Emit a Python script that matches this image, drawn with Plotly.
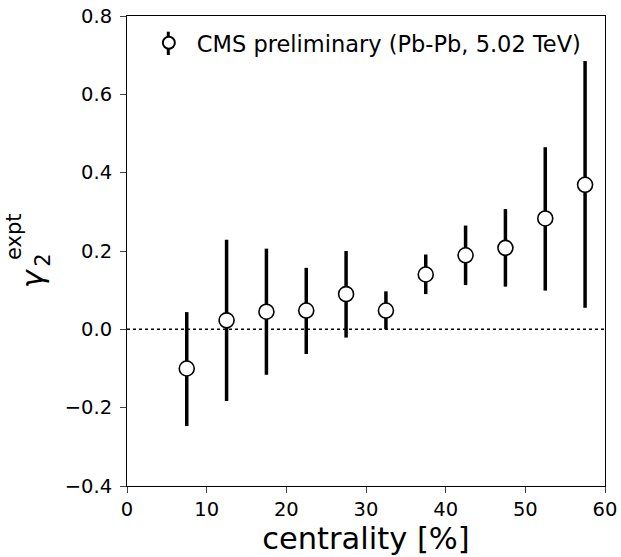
import plotly.graph_objects as go

centrality = [7.5, 12.5, 17.5, 22.5, 27.5, 32.5, 37.5, 42.5, 47.5, 52.5, 57.5]
gamma2 = [-0.100, 0.023, 0.045, 0.048, 0.090, 0.048, 0.140, 0.189, 0.208, 0.283, 0.369]
err_up = [0.144, 0.206, 0.161, 0.109, 0.110, 0.049, 0.051, 0.076, 0.099, 0.182, 0.316]
err_down = [0.147, 0.206, 0.161, 0.111, 0.111, 0.048, 0.050, 0.076, 0.099, 0.184, 0.314]
x_ticks = [0, 10, 20, 30, 40, 50, 60]
y_ticks = [-0.4, -0.2, 0.0, 0.2, 0.4, 0.6, 0.8]

FONT = "DejaVu Sans"
fig = go.Figure()

fig.add_trace(go.Scatter(
    x=[0, 60], y=[0, 0], mode="lines",
    line=dict(color="black", width=1.5, dash="dot"),
    showlegend=False, hoverinfo="skip"))

fig.add_trace(go.Scatter(
    x=centrality, y=gamma2, mode="markers",
    name="CMS preliminary (Pb-Pb, 5.02 TeV)",
    marker=dict(symbol="circle", size=15, color="white",
                line=dict(color="black", width=1.6)),
    error_y=dict(type="data", array=err_up, arrayminus=err_down,
                 color="black", thickness=3.5, width=0, symmetric=False)))

fig.update_layout(
    width=621, height=557,
    margin=dict(l=127, r=16, t=16, b=71),
    paper_bgcolor="white", plot_bgcolor="white",
    font=dict(family=FONT, size=19.5, color="black"),
    legend=dict(x=0.029, y=0.988, xanchor="left", yanchor="top",
                bgcolor="rgba(0,0,0,0)", font=dict(size=22.5, family=FONT),
                itemwidth=46, itemsizing="constant"),
    xaxis=dict(range=[0, 60], tickvals=x_ticks, ticks="outside", ticklen=6,
               tickwidth=1, showline=True, linecolor="black", linewidth=1,
               mirror=True, showgrid=False, zeroline=False, automargin=False,
               title=dict(text="centrality [%]", font=dict(size=30.5, family=FONT), standoff=6),
               tickfont=dict(size=19.5)),
    yaxis=dict(range=[-0.4, 0.8], tickvals=y_ticks, tickformat=".1f",
               ticks="outside", ticklen=6, tickwidth=1, showline=True,
               linecolor="black", linewidth=1, mirror=True, showgrid=False,
               zeroline=False, automargin=False, tickfont=dict(size=19.5),
               ticklabelstandoff=4),
)

# error-bar glyph for the legend entry
fig.add_shape(type="line", xref="paper", yref="paper",
              x0=0.0864, x1=0.0864, y0=0.917, y1=0.9666,
              line=dict(color="black", width=3))

# Stacked y-axis label gamma_2^expt
fig.add_annotation(text="<i>γ</i>", xref="paper", yref="paper", x=-0.197, y=0.4415,
                   textangle=-90, showarrow=False, font=dict(size=30.5, family=FONT),
                   xanchor="center", yanchor="middle")
fig.add_annotation(text="expt", xref="paper", yref="paper", x=-0.236, y=0.530,
                   textangle=-90, showarrow=False, font=dict(size=21, family=FONT),
                   xanchor="center", yanchor="middle")
fig.add_annotation(text="2", xref="paper", yref="paper", x=-0.175, y=0.480,
                   textangle=-90, showarrow=False, font=dict(size=21, family=FONT),
                   xanchor="center", yanchor="middle")

fig.write_html("out.html", config={"displayModeBar": False},
               post_script="document.body.style.margin='0';")
